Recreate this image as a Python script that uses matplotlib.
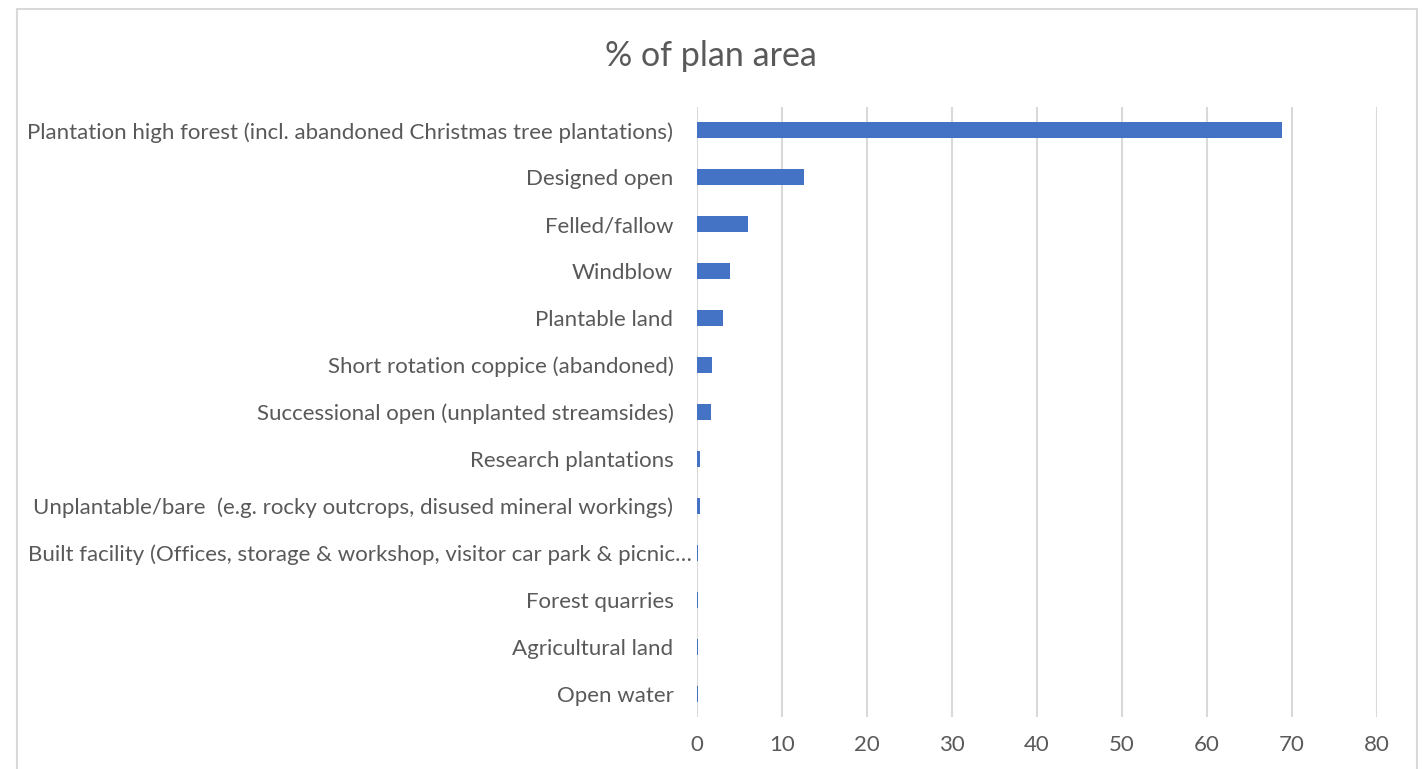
import matplotlib
matplotlib.use("Agg")
import matplotlib.pyplot as plt
from matplotlib.patches import Rectangle
from matplotlib.transforms import ScaledTranslation

categories = [
    "Plantation high forest (incl. abandoned Christmas tree plantations)",
    "Designed open",
    "Felled/fallow",
    "Windblow",
    "Plantable land",
    "Short rotation coppice (abandoned)",
    "Successional open (unplanted streamsides)",
    "Research plantations",
    "Unplantable/bare  (e.g. rocky outcrops, disused mineral workings)",
    "Built facility (Offices, storage & workshop, visitor car park & picnic\u2026",
    "Forest quarries",
    "Agricultural land",
    "Open water",
]
values = [68.8, 12.6, 6.0, 3.9, 3.0, 1.8, 1.7, 0.4, 0.3, 0.1, 0.1, 0.1, 0.1]
xticks = [0, 10, 20, 30, 40, 50, 60, 70, 80]

FONT = ["Lato", "DejaVu Sans"]
TEXT_COLOR = "#595959"
GRID_COLOR = "#d9d9d9"
BAR_COLOR = "#4472c4"

W, H = 1422, 769
fig = plt.figure(figsize=(W / 100, H / 100), dpi=100)

# chart border
fig.patches.append(Rectangle((17 / W, 0 - 0.01), (1417 - 17) / W, 1 - 9 / H + 0.01,
                             transform=fig.transFigure, fill=False,
                             edgecolor=GRID_COLOR, linewidth=1.5))

ax = fig.add_axes([697 / W, 1 - 717 / H, (1377 - 697) / W, (717 - 107) / H])

ypos = list(range(len(categories)))
ax.barh(ypos, values, height=0.34, color=BAR_COLOR, zorder=3)

ax.set_xlim(0, 80)
ax.set_ylim(len(categories) - 0.5, -0.5)
ax.set_xticks(xticks)
ax.set_xticklabels([str(t) for t in xticks])
ax.set_yticks(ypos)
ax.set_yticklabels(categories)

for lbl in ax.get_xticklabels() + ax.get_yticklabels():
    lbl.set_family(FONT)
    lbl.set_fontsize(16)
    lbl.set_color(TEXT_COLOR)

ax.tick_params(axis="both", length=0)
ax.tick_params(axis="y", pad=17)
ax.tick_params(axis="x", pad=13)
ax.grid(axis="x", color=GRID_COLOR, linewidth=1.5, zorder=0)
for s in ax.spines.values():
    s.set_visible(False)

# the truncated label overflows toward the axis
fig.canvas.draw()
for tick in ax.yaxis.get_major_ticks():
    lbl = tick.label1
    if lbl.get_text().endswith("\u2026"):
        lbl.set_transform(lbl.get_transform()
                          + ScaledTranslation(0.18, 0, fig.dpi_scale_trans))

fig.text(711 / W, 1 - 56 / H, "% of plan area", ha="center", va="center",
         family=FONT, fontsize=24.5, color=TEXT_COLOR)

fig.savefig("out.png", dpi=100)
